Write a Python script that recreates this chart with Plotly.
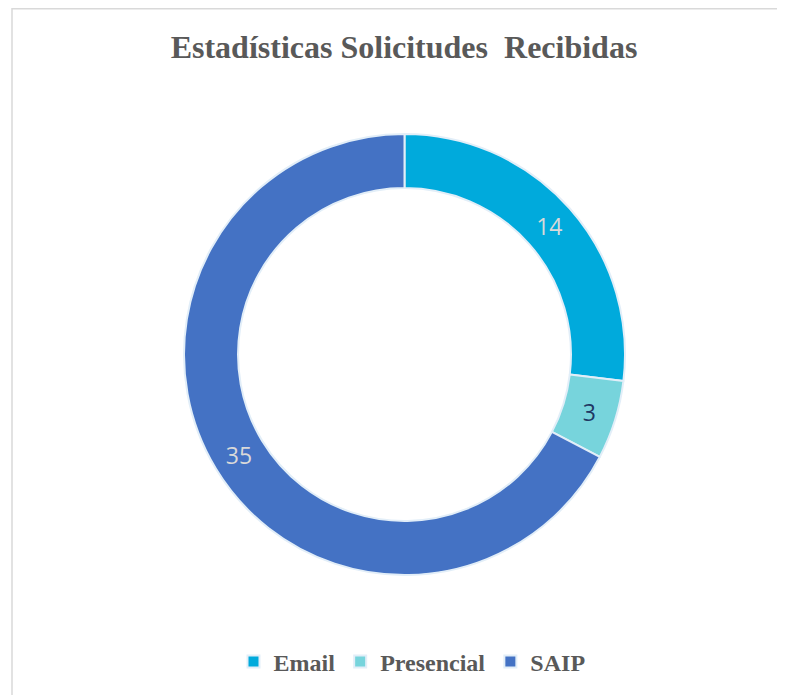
import plotly.graph_objects as go

labels = ["Email", "Presencial", "SAIP"]
values = [14, 3, 35]
colors = ["#00AADC", "#77D4DC", "#4472C4"]
text_colors = ["#D9D9D9", "#1F3864", "#D9D9D9"]

W, H = 785, 695
OFF = 8  # page body margin
cx, cy, R = 404.5 - OFF, 354.5 - OFF, 220.5

fig = go.Figure(go.Pie(
    labels=labels,
    values=values,
    hole=0.755,
    sort=False,
    direction="clockwise",
    rotation=0,
    marker=dict(colors=colors, line=dict(color="#E2EEF8", width=2)),
    textinfo="value",
    textposition="inside",
    insidetextorientation="horizontal",
    textfont=dict(family="Open Sans", size=23, color=text_colors),
    domain=dict(x=[(cx - R) / W, (cx + R) / W], y=[(H - cy - R) / H, (H - cy + R) / H]),
    showlegend=True,
    hoverinfo="label+value",
))

fig.update_layout(
    width=W, height=H,
    margin=dict(l=0, r=0, t=0, b=0),
    paper_bgcolor="white",
    title=dict(
        text="Estadísticas Solicitudes  Recibidas",
        font=dict(family="Liberation Serif", size=32, color="#595959", weight="bold"),
        x=(404 - OFF) / W, xanchor="center", y=1 - (47 - OFF) / H, yanchor="middle",
    ),
    legend=dict(
        orientation="h",
        x=(412 - OFF) / W, xanchor="center",
        y=1 - (662 - OFF) / H, yanchor="middle",
        font=dict(family="Liberation Serif", size=24, color="#595959", weight="bold"),
        itemwidth=30,
        traceorder="normal",
    ),
    shapes=[dict(
        type="rect", xref="paper", yref="paper",
        x0=(12 - OFF) / W, x1=1.05, y0=-0.05, y1=1 - (8 - OFF) / H - 0.001,
        line=dict(color="#D9D9D9", width=1.5),
        fillcolor="rgba(0,0,0,0)", layer="below",
    )],
)

fig.write_html("out.html")
